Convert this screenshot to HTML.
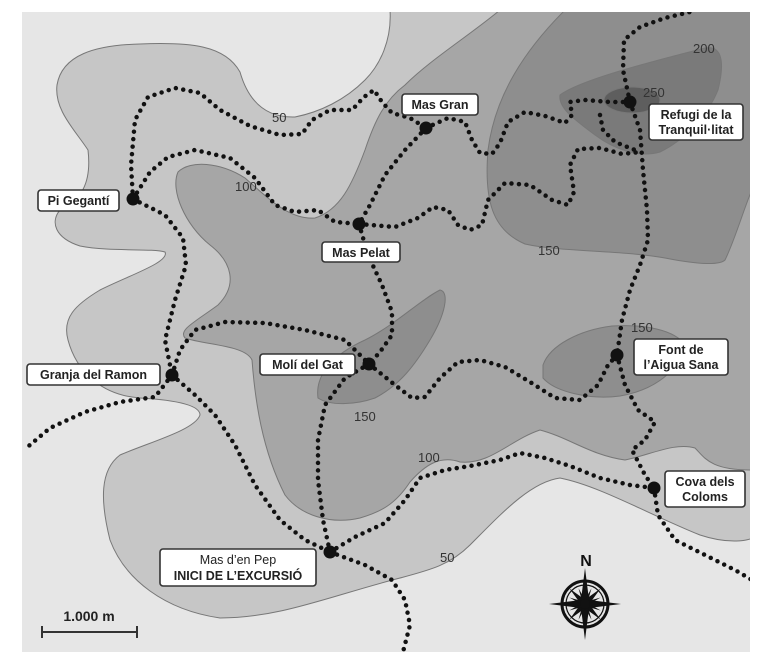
<!DOCTYPE html>
<html><head><meta charset="utf-8"><style>
html,body{margin:0;padding:0;background:#fff;}
svg{display:block;}
text{font-family:"Liberation Sans",sans-serif;}
.lbl{font-size:12.5px;font-weight:bold;fill:#222;}
.el{font-size:13px;fill:#333;}
.box{fill:#fff;stroke:#333;stroke-width:1.6;}
.tr{fill:none;stroke:#111;stroke-width:4.5;stroke-linecap:round;stroke-linejoin:round;stroke-dasharray:0 7.5;}
.c{stroke:#777;stroke-width:1;stroke-linejoin:round;}
</style></head><body>
<svg width="773" height="663" viewBox="0 0 773 663" xmlns="http://www.w3.org/2000/svg">
<defs><clipPath id="f"><rect x="22" y="12" width="728" height="640"/></clipPath></defs>
<rect x="22" y="12" width="728" height="640" fill="#e6e6e6"/>
<g clip-path="url(#f)">
<!-- level 50 -->
<path class="c" fill="#c6c6c6" d="M390,10 C392,40 380,65 365,80 C345,100 320,112 295,117 C265,118 248,100 240,72 C225,45 190,42 140,44 C95,45 62,55 57,85 C54,110 75,130 88,150 C92,185 80,200 60,210 C50,222 55,238 80,246 C110,252 150,248 165,252 C170,262 130,275 100,290 C75,305 62,318 68,340 C76,370 100,395 140,398 C175,400 200,405 200,415 C195,430 150,442 120,455 C100,470 100,500 110,540 C125,580 165,610 220,618 C280,618 330,596 400,578 C430,570 450,565 470,545 C500,515 530,482 560,478 C600,486 650,515 700,535 C730,545 750,540 752,538 L752,10 Z"/>
<!-- level 100 -->
<path class="c" fill="#a6a6a6" d="M500,10 C470,35 430,60 405,85 C385,100 375,120 365,150 C352,185 340,210 315,218 C290,220 270,200 245,178 C220,162 190,160 178,172 C170,190 185,225 210,245 C232,262 238,285 218,305 C195,322 178,330 185,338 C205,345 245,345 252,360 C255,400 262,450 285,495 C300,515 330,525 360,518 C380,512 395,505 410,482 C425,465 440,455 460,462 C490,465 510,440 540,430 C570,438 590,455 625,460 C650,455 675,442 695,448 C705,458 710,470 752,470 L752,10 Z"/>
<!-- level 150 -->
<path class="c" fill="#8e8e8e" d="M565,10 C525,50 495,95 488,150 C484,200 492,230 525,244 C560,252 620,250 665,258 C700,265 720,265 725,260 C735,240 745,205 752,190 L752,10 Z"/>
<path class="c" fill="#8e8e8e" d="M318,398 C315,375 332,355 365,340 C395,325 420,300 440,290 C450,292 445,315 430,340 C415,365 400,385 375,398 C355,405 330,406 318,398 Z"/>
<path class="c" fill="#8e8e8e" d="M543,365 C550,345 580,330 612,326 C645,324 675,330 685,345 C680,370 655,390 620,396 C590,400 555,392 543,378 Z"/>
<!-- level 200 -->
<path class="c" fill="#7a7a7a" d="M560,95 C580,80 650,62 705,48 C722,45 725,62 718,90 C708,115 685,140 660,152 C640,158 615,150 595,135 C575,120 558,108 560,95 Z"/>
<!-- level 250 -->
<ellipse class="c" cx="632" cy="100" rx="28" ry="13" fill="#5e5e5e"/>

<!-- trails -->
<polyline class="tr" points="133,199 131,165 135,120 148,97 175,88 200,93 220,110 250,126 280,135 302,134 312,120 330,110 352,110 364,97 374,90 382,102 392,113 410,118 426,128"/>
<polyline class="tr" points="133,199 150,172 168,157 195,150 230,158 255,178 275,205 295,212 318,210 335,222 359,224"/>
<polyline class="tr" points="133,199 165,215 183,238 186,265 175,300 165,340 172,375"/>
<polyline class="tr" points="426,128 405,150 385,175 370,205 359,224"/>
<polyline class="tr" points="426,128 448,118 465,122 472,140 480,153 492,154 500,143 508,122 525,112 545,116 565,123 572,115 570,102 585,100 610,102 630,102"/>
<polyline class="tr" points="359,224 395,227 418,218 433,207 448,210 458,225 470,230 482,225 488,200 505,183 530,185 552,200 568,205 574,192 570,165 578,149 600,148 622,154 640,152"/>
<polyline class="tr" points="600,115 603,130 615,142 640,152"/>
<polyline class="tr" points="630,102 623,70 624,40 640,27 665,18 690,12"/>
<polyline class="tr" points="630,102 640,130 643,170 647,210 648,240 640,265 630,290 622,320 617,355"/>
<polyline class="tr" points="359,224 368,255 382,285 392,312 392,335 380,352 369,364"/>
<polyline class="tr" points="172,375 180,350 195,330 225,322 265,323 305,330 345,340 369,364"/>
<polyline class="tr" points="369,364 395,385 412,398 425,397 440,378 458,362 480,360 505,367 530,382 555,398 580,400 598,385 608,365 617,355"/>
<polyline class="tr" points="369,364 345,378 325,405 318,440 318,480 323,520 330,552"/>
<polyline class="tr" points="172,375 155,397 120,402 85,412 50,428 24,450"/>
<polyline class="tr" points="172,375 195,395 215,415 235,445 255,485 280,520 305,540 330,552"/>
<polyline class="tr" points="330,552 355,537 385,523 405,500 420,478 445,470 470,466 500,460 520,453 545,458 570,466 600,478 630,485 654,488"/>
<polyline class="tr" points="330,552 365,565 392,580 405,600 410,625 403,652"/>
<polyline class="tr" points="617,355 625,385 638,410 655,422 645,440 632,450 645,475 654,488"/>
<polyline class="tr" points="654,488 658,515 675,540 705,555 735,570 752,580"/>

<!-- nodes -->
<g fill="#111">
<circle cx="133" cy="199" r="6.5"/><circle cx="426" cy="128" r="6.5"/><circle cx="630" cy="102" r="6.5"/>
<circle cx="359" cy="224" r="6.5"/><circle cx="369" cy="364" r="6.5"/><circle cx="172" cy="375" r="6.5"/>
<circle cx="617" cy="355" r="6.5"/><circle cx="654" cy="488" r="6.5"/><circle cx="330" cy="552" r="6.5"/>
</g>

<!-- elevation labels -->
<text class="el" x="272" y="122">50</text>
<text class="el" x="235" y="191">100</text>
<text class="el" x="538" y="255">150</text>
<text class="el" x="693" y="53">200</text>
<text class="el" x="643" y="97">250</text>
<text class="el" x="631" y="332">150</text>
<text class="el" x="354" y="421">150</text>
<text class="el" x="418" y="462">100</text>
<text class="el" x="440" y="562">50</text>

<!-- label boxes -->
<rect class="box" x="38" y="190" width="81" height="21" rx="3"/><text class="lbl" x="78.5" y="205" text-anchor="middle">Pi Gegantí</text>
<rect class="box" x="402" y="94" width="76" height="21" rx="3"/><text class="lbl" x="440" y="109" text-anchor="middle">Mas Gran</text>
<rect class="box" x="649" y="104" width="94" height="36" rx="3"/><text class="lbl" x="696" y="119" text-anchor="middle">Refugi de la</text><text class="lbl" x="696" y="134" text-anchor="middle">Tranquil·litat</text>
<rect class="box" x="322" y="242" width="78" height="20" rx="3"/><text class="lbl" x="361" y="257" text-anchor="middle">Mas Pelat</text>
<rect class="box" x="260" y="354" width="95" height="21" rx="3"/><text class="lbl" x="307.5" y="369" text-anchor="middle">Molí del Gat</text>
<rect class="box" x="27" y="364" width="133" height="21" rx="3"/><text class="lbl" x="93.5" y="379" text-anchor="middle">Granja del Ramon</text>
<rect class="box" x="634" y="339" width="94" height="36" rx="3"/><text class="lbl" x="681" y="354" text-anchor="middle">Font de</text><text class="lbl" x="681" y="369" text-anchor="middle">l’Aigua Sana</text>
<rect class="box" x="665" y="471" width="80" height="36" rx="3"/><text class="lbl" x="705" y="486" text-anchor="middle">Cova dels</text><text class="lbl" x="705" y="501" text-anchor="middle">Coloms</text>
<rect class="box" x="160" y="549" width="156" height="37" rx="3"/><text class="lbl" x="238" y="564" text-anchor="middle" style="font-weight:normal">Mas d’en Pep</text><text class="lbl" x="238" y="580" text-anchor="middle">INICI DE L’EXCURSIÓ</text>

<!-- scale -->
<text x="89" y="621" text-anchor="middle" style="font-size:14px;font-weight:bold;fill:#222">1.000 m</text>
<line x1="42" y1="632" x2="137" y2="632" stroke="#333" stroke-width="2"/>
<line x1="42" y1="626" x2="42" y2="638" stroke="#333" stroke-width="2"/>
<line x1="137" y1="626" x2="137" y2="638" stroke="#333" stroke-width="2"/>

<!-- compass -->
<text x="586" y="566" text-anchor="middle" style="font-size:16px;font-weight:bold;fill:#111">N</text>
<circle cx="585" cy="604" r="23" fill="none" stroke="#111" stroke-width="3"/>
<circle cx="585" cy="604" r="19" fill="none" stroke="#111" stroke-width="1.2"/>
<g fill="#111" transform="translate(585,604)">
<polygon points="0,-36 4,-4 0,0 -4,-4"/><polygon points="0,36 4,4 0,0 -4,4"/>
<polygon points="-36,0 -4,4 0,0 -4,-4"/><polygon points="36,0 4,4 0,0 4,-4"/>
<g transform="rotate(45)"><polygon points="0,-22 3,-3 -3,-3"/><polygon points="0,22 3,3 -3,3"/><polygon points="-22,0 -3,3 -3,-3"/><polygon points="22,0 3,3 3,-3"/></g>
<g transform="rotate(22.5)"><polygon points="0,-17 2,0 -2,0"/><polygon points="0,17 2,0 -2,0"/><polygon points="-17,0 0,2 0,-2"/><polygon points="17,0 0,2 0,-2"/></g>
<g transform="rotate(67.5)"><polygon points="0,-17 2,0 -2,0"/><polygon points="0,17 2,0 -2,0"/><polygon points="-17,0 0,2 0,-2"/><polygon points="17,0 0,2 0,-2"/></g>
<circle r="5"/>
</g>
</g>
</svg>
</body></html>
